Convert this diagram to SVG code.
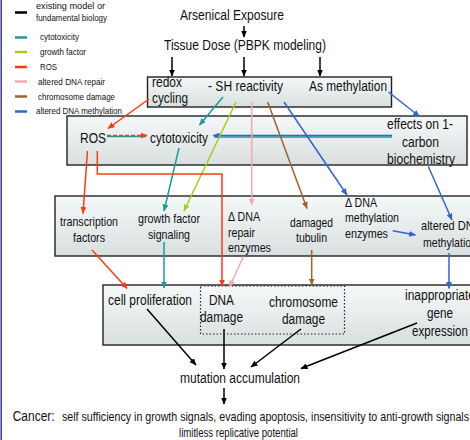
<svg xmlns="http://www.w3.org/2000/svg" width="470" height="440" viewBox="0 0 470 440">
<defs>
<linearGradient id="boxg" x1="0" y1="0" x2="0" y2="1">
<stop offset="0" stop-color="#f4f8f8"/>
<stop offset="1" stop-color="#d9dfdf"/>
</linearGradient>
<marker id="mk" viewBox="0 0 7 6" refX="6.5" refY="3" markerWidth="7" markerHeight="6" markerUnits="userSpaceOnUse" orient="auto"><path d="M0,0 L7,3 L0,6 z" fill="#000"/></marker>
<marker id="mt" viewBox="0 0 7 6" refX="6.5" refY="3" markerWidth="7" markerHeight="6" markerUnits="userSpaceOnUse" orient="auto"><path d="M0,0 L7,3 L0,6 z" fill="#1a9c9c"/></marker>
<marker id="mg" viewBox="0 0 7 6" refX="6.5" refY="3" markerWidth="7" markerHeight="6" markerUnits="userSpaceOnUse" orient="auto"><path d="M0,0 L7,3 L0,6 z" fill="#a8cc1c"/></marker>
<marker id="mr" viewBox="0 0 7 6" refX="6.5" refY="3" markerWidth="7" markerHeight="6" markerUnits="userSpaceOnUse" orient="auto"><path d="M0,0 L7,3 L0,6 z" fill="#ff3a12"/></marker>
<marker id="mp" viewBox="0 0 7 6" refX="6.5" refY="3" markerWidth="7" markerHeight="6" markerUnits="userSpaceOnUse" orient="auto"><path d="M0,0 L7,3 L0,6 z" fill="#f7a7b1"/></marker>
<marker id="mb" viewBox="0 0 7 6" refX="6.5" refY="3" markerWidth="7" markerHeight="6" markerUnits="userSpaceOnUse" orient="auto"><path d="M0,0 L7,3 L0,6 z" fill="#a0622e"/></marker>
<marker id="mu" viewBox="0 0 7 6" refX="6.5" refY="3" markerWidth="7" markerHeight="6" markerUnits="userSpaceOnUse" orient="auto"><path d="M0,0 L7,3 L0,6 z" fill="#3366cc"/></marker>
</defs>
<style>
text{font-family:"Liberation Sans",Arial,sans-serif;fill:#111;}
.lg{font-size:9.5px;}
.t{font-size:15.5px;}
.b{font-size:14px;}
.s{font-size:13px;}
.box{fill:url(#boxg);stroke:#222;stroke-width:1.4;}
.dot{fill:none;stroke:#222;stroke-width:1.2;stroke-dasharray:1.5 2;}
line,path.c,polyline{fill:none;stroke-width:1.5;}
.k{stroke:#000;}
.te{stroke:#1a9c9c;}
.g{stroke:#a8cc1c;}
.r{stroke:#ff3a12;}
.p{stroke:#f7a7b1;}
.br{stroke:#a0622e;}
.u{stroke:#3366cc;}
.leg line{stroke-width:2.5;}
</style>
<rect width="470" height="440" fill="#fff"/>
<line x1="1.2" y1="0" x2="1.2" y2="440" stroke="#3a3a8a" stroke-width="1.5"/>

<g id="legend" class="leg">
<line class="k" x1="15" y1="12.5" x2="27" y2="12.5"/>
<line class="te" x1="15" y1="37.5" x2="27" y2="37.5"/>
<line class="g" x1="15" y1="52" x2="27" y2="52"/>
<line class="r" x1="15" y1="67" x2="27" y2="67"/>
<line class="p" x1="15" y1="81.5" x2="27" y2="81.5"/>
<line class="br" x1="15" y1="96.5" x2="27" y2="96.5"/>
<line class="u" x1="15" y1="111.5" x2="27" y2="111.5"/>
<text class="lg" x="36" y="9" textLength="69" lengthAdjust="spacingAndGlyphs">existing model or</text>
<text class="lg" x="36" y="21" textLength="71" lengthAdjust="spacingAndGlyphs">fundamental biology</text>
<text class="lg" x="40" y="40" textLength="39" lengthAdjust="spacingAndGlyphs">cytotoxicity</text>
<text class="lg" x="40" y="54.5" textLength="46" lengthAdjust="spacingAndGlyphs">growth factor</text>
<text class="lg" x="40" y="70" textLength="17" lengthAdjust="spacingAndGlyphs">ROS</text>
<text class="lg" x="38" y="84.5" textLength="67" lengthAdjust="spacingAndGlyphs">altered DNA repair</text>
<text class="lg" x="38" y="99.5" textLength="77" lengthAdjust="spacingAndGlyphs">chromosome damage</text>
<text class="lg" x="36" y="114" textLength="86" lengthAdjust="spacingAndGlyphs">altered DNA methylation</text>
</g>

<g id="exposure">
<text class="t" x="180" y="20" textLength="104" lengthAdjust="spacingAndGlyphs">Arsenical Exposure</text>
</g>
<g id="tissue-dose">
<text class="t" x="164" y="50" textLength="162" lengthAdjust="spacingAndGlyphs">Tissue Dose (PBPK modeling)</text>
</g>

<g id="box-mechanisms">
<rect class="box" x="147.5" y="77" width="244" height="30"/>
<text class="b" x="152" y="87" textLength="30" lengthAdjust="spacingAndGlyphs">redox</text>
<text class="b" x="152" y="103" textLength="36" lengthAdjust="spacingAndGlyphs">cycling</text>
<text class="b" x="208" y="91" textLength="75" lengthAdjust="spacingAndGlyphs">- SH reactivity</text>
<text class="b" x="309" y="91" textLength="78" lengthAdjust="spacingAndGlyphs">As methylation</text>
</g>

<g id="box-effects">
<rect class="box" x="67" y="116" width="400" height="49"/>
<text class="b" x="80" y="143" textLength="26" lengthAdjust="spacingAndGlyphs">ROS</text>
<text class="b" x="150" y="143" textLength="58" lengthAdjust="spacingAndGlyphs">cytotoxicity</text>
<text class="b" x="387" y="129" textLength="66" lengthAdjust="spacingAndGlyphs">effects on 1-</text>
<text class="b" x="402" y="147" textLength="37" lengthAdjust="spacingAndGlyphs">carbon</text>
<text class="b" x="387" y="163.5" textLength="68" lengthAdjust="spacingAndGlyphs">biochemistry</text>
</g>

<g id="box-targets">
<rect class="box" x="55" y="196" width="420" height="60"/>
<text class="s" x="60" y="226" textLength="58" lengthAdjust="spacingAndGlyphs">transcription</text>
<text class="s" x="73" y="242" textLength="32" lengthAdjust="spacingAndGlyphs">factors</text>
<text class="s" x="138" y="223" textLength="62" lengthAdjust="spacingAndGlyphs">growth factor</text>
<text class="s" x="148" y="238.5" textLength="42" lengthAdjust="spacingAndGlyphs">signaling</text>
<text class="s" x="228" y="221" textLength="32" lengthAdjust="spacingAndGlyphs">Δ DNA</text>
<text class="s" x="228" y="237" textLength="27" lengthAdjust="spacingAndGlyphs">repair</text>
<text class="s" x="228" y="252" textLength="43" lengthAdjust="spacingAndGlyphs">enzymes</text>
<text class="s" x="290" y="227" textLength="43" lengthAdjust="spacingAndGlyphs">damaged</text>
<text class="s" x="296" y="242" textLength="31" lengthAdjust="spacingAndGlyphs">tubulin</text>
<text class="s" x="345" y="207" textLength="32" lengthAdjust="spacingAndGlyphs">Δ DNA</text>
<text class="s" x="345" y="222" textLength="54" lengthAdjust="spacingAndGlyphs">methylation</text>
<text class="s" x="345" y="238" textLength="43" lengthAdjust="spacingAndGlyphs">enzymes</text>
<text class="s" x="421" y="230" textLength="60" lengthAdjust="spacingAndGlyphs">altered DNA</text>
<text class="s" x="423" y="247" textLength="54" lengthAdjust="spacingAndGlyphs">methylation</text>
</g>

<g id="box-outcomes">
<rect class="box" x="103" y="285" width="372" height="60"/>
<rect class="dot" x="200.5" y="286" width="144" height="48"/>
<text class="b" x="108" y="305" textLength="84" lengthAdjust="spacingAndGlyphs">cell proliferation</text>
<text class="b" x="209" y="305" textLength="25" lengthAdjust="spacingAndGlyphs">DNA</text>
<text class="b" x="200" y="322" textLength="43" lengthAdjust="spacingAndGlyphs">damage</text>
<text class="b" x="269" y="307" textLength="69" lengthAdjust="spacingAndGlyphs">chromosome</text>
<text class="b" x="282" y="323.5" textLength="43" lengthAdjust="spacingAndGlyphs">damage</text>
<text class="b" x="405" y="300" textLength="70" lengthAdjust="spacingAndGlyphs">inappropriate</text>
<text class="b" x="427" y="318" textLength="26" lengthAdjust="spacingAndGlyphs">gene</text>
<text class="b" x="412" y="336" textLength="56" lengthAdjust="spacingAndGlyphs">expression</text>
</g>

<g id="mutation">
<text class="b" x="180" y="383" textLength="120" lengthAdjust="spacingAndGlyphs">mutation accumulation</text>
</g>

<g id="cancer">
<text class="t" x="12.7" y="421" textLength="42" lengthAdjust="spacingAndGlyphs">Cancer:</text>
<text class="s" x="62" y="421" textLength="410" lengthAdjust="spacingAndGlyphs">self sufficiency in growth signals, evading apoptosis, insensitivity to anti-growth signals,</text>
<text class="s" x="179" y="436.5" textLength="119" lengthAdjust="spacingAndGlyphs">limitless replicative potential</text>
</g>

<g id="connectors">
<line class="k" x1="244" y1="26" x2="244" y2="37" marker-end="url(#mk)"/>
<line class="k" x1="172" y1="57" x2="172" y2="76" marker-end="url(#mk)"/>
<line class="k" x1="244" y1="57" x2="244" y2="76" marker-end="url(#mk)"/>
<line class="k" x1="320" y1="57" x2="320" y2="76" marker-end="url(#mk)"/>
<line class="k" x1="147" y1="309" x2="196" y2="365" marker-end="url(#mk)"/>
<line class="k" x1="224" y1="329" x2="224" y2="369" marker-end="url(#mk)"/>
<line class="k" x1="301" y1="329" x2="251" y2="367" marker-end="url(#mk)"/>
<line class="k" x1="417" y1="323" x2="301" y2="368.5" marker-end="url(#mk)"/>
<line class="k" x1="224" y1="388" x2="224" y2="404" marker-end="url(#mk)"/>

<line class="te" x1="223" y1="97" x2="199.5" y2="125" marker-end="url(#mt)"/>
<line class="te" x1="179" y1="148" x2="164" y2="211" marker-end="url(#mt)"/>
<line class="te" x1="164" y1="242" x2="164" y2="288" marker-end="url(#mt)"/>
<line class="te" x1="392" y1="137" x2="214" y2="137"/>
<line class="u" x1="392" y1="135.6" x2="213" y2="135.6" marker-end="url(#mu)"/>
<line class="te" x1="107" y1="136.6" x2="146" y2="136.6"/>
<line class="r" x1="107" y1="135.6" x2="147" y2="135.6" stroke-dasharray="4 2" marker-end="url(#mr)"/>

<line class="g" x1="236" y1="102" x2="184" y2="211" marker-end="url(#mg)"/>

<line class="r" x1="149" y1="99" x2="108" y2="128.5" marker-end="url(#mr)"/>
<line class="r" x1="87.5" y1="151" x2="83" y2="213.5" marker-end="url(#mr)"/>
<polyline class="r" points="97.3,151 97.3,174 222,174 222,286" marker-end="url(#mr)"/>
<line class="r" x1="92" y1="250" x2="127" y2="288.5" marker-end="url(#mr)"/>

<line class="p" x1="251.7" y1="102" x2="251.7" y2="205" marker-end="url(#mp)"/>
<line class="p" x1="243.5" y1="256.5" x2="229.5" y2="287" marker-end="url(#mp)"/>

<line class="br" x1="267.7" y1="102" x2="307" y2="208.5" marker-end="url(#mb)"/>
<line class="br" x1="311.7" y1="250" x2="311.7" y2="285" marker-end="url(#mb)"/>

<line class="u" x1="284" y1="102" x2="347" y2="195" marker-end="url(#mu)"/>
<line class="u" x1="388.5" y1="92" x2="419.5" y2="116.5" marker-end="url(#mu)"/>
<line class="u" x1="428.3" y1="166.5" x2="452" y2="220" marker-end="url(#mu)"/>
<line class="u" x1="392.7" y1="230.7" x2="415.5" y2="235" marker-end="url(#mu)"/>
<line class="u" x1="449" y1="253" x2="449" y2="288.5" marker-end="url(#mu)"/>
</g>
</svg>
